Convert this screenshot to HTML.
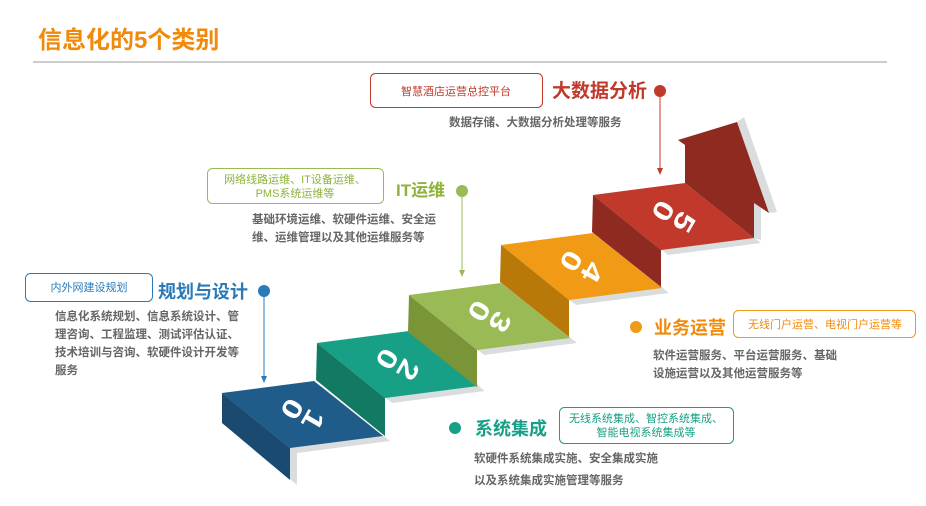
<!DOCTYPE html>
<html><head><meta charset="utf-8"><style>
body{margin:0;background:#fff;}
svg{display:block;font-family:"Liberation Sans","Noto Sans CJK SC",sans-serif;}
.g{fill:#666;font-size:11.5px;font-weight:bold;}
</style></head><body>
<svg width="926" height="506" viewBox="0 0 926 506">
<text x="38" y="48" fill="#f08a0b" font-size="24" font-weight="bold">信息化的5个类别</text>
<line x1="33" y1="62" x2="887" y2="62" stroke="#999" stroke-width="1"/>

<g fill="#d9dddd">
<polygon points="229,398 321,386 390,441 297,453 297,485 229,428"/>
<polygon points="324,348 416,336 485,391 392,403"/>
<polygon points="416,300 508,288 577,343 484,355"/>
<polygon points="508,250 600,238 669,293 576,305"/>
<polygon points="600,200 692,188 761,243 668,255"/>
<polygon points="737,122 744,117 777,212 769,213"/>
<polygon points="754,203 761,206 761,240 754,238"/>
</g>
<polygon points="222,393 314,381 383,436 290,448" fill="#1f5c8a"/>
<polygon points="222,393 290,448 290,480 222,423" fill="#1a4a70"/>
<polygon points="317,343 409,331 478,386 385,398" fill="#17a086"/>
<polygon points="317,343 385,398 385,436 316,380" fill="#127a63"/>
<polygon points="409,295 501,283 570,338 477,350" fill="#9aba55"/>
<polygon points="409,295 477,350 477,387 408,332" fill="#7a9538"/>
<polygon points="501,245 593,233 662,288 569,300" fill="#f09a16"/>
<polygon points="501,245 569,300 569,337 500,282" fill="#b87908"/>
<polygon points="685,183 685,145 678,140 737,122 769,213 754,203 754,238" fill="#8e2a20"/>
<polygon points="593,195 685,183 754,238 661,250" fill="#c0392b"/>
<polygon points="593,195 661,250 661,287 592,232" fill="#8f2a20"/>

<g fill="#fff" font-size="34" font-weight="bold" text-anchor="middle" dominant-baseline="central">
<text transform="translate(292,409) rotate(120) scale(1,0.8)">0</text><text transform="translate(313,420) rotate(120) scale(1,0.8)">1</text>
<text transform="translate(387,359) rotate(120) scale(1,0.8)">0</text><text transform="translate(408,370) rotate(120) scale(1,0.8)">2</text>
<text transform="translate(479,311) rotate(120) scale(1,0.8)">0</text><text transform="translate(500,322) rotate(120) scale(1,0.8)">3</text>
<text transform="translate(571,261) rotate(120) scale(1,0.8)">0</text><text transform="translate(592,272) rotate(120) scale(1,0.8)">4</text>
<text transform="translate(663,211) rotate(120) scale(1,0.8)">0</text><text transform="translate(684,222) rotate(120) scale(1,0.8)">5</text>
</g>

<rect x="370.5" y="73.5" width="172" height="34" rx="5" fill="none" stroke="#c0392b"/>
<text x="456" y="95" fill="#c0392b" font-size="11" text-anchor="middle">智慧酒店运营总控平台</text>
<text x="552" y="97" fill="#c0392b" font-size="19" font-weight="bold">大数据分析</text>
<circle cx="660" cy="91" r="6" fill="#c0392b"/>
<line x1="660" y1="91" x2="660" y2="170" stroke="#c0392b"/>
<polygon points="657,168 663,168 660,175" fill="#c0392b"/>
<text x="449" y="126" class="g">数据存储、大数据分析处理等服务</text>

<rect x="207.5" y="168.5" width="176" height="35" rx="5" fill="none" stroke="#9aba55"/>
<text x="295" y="183" fill="#8db33a" font-size="11" text-anchor="middle">网络线路运维、IT设备运维、</text>
<text x="295" y="197" fill="#8db33a" font-size="11" text-anchor="middle">PMS系统运维等</text>
<text x="396" y="196" fill="#8db33a" font-size="17" font-weight="bold">IT运维</text>
<circle cx="462" cy="191" r="6" fill="#9aba55"/>
<line x1="462" y1="191" x2="462" y2="272" stroke="#9aba55"/>
<polygon points="459,270 465,270 462,277" fill="#9aba55"/>
<text x="252" y="223" class="g">基础环境运维、软硬件运维、安全运</text>
<text x="252" y="241" class="g">维、运维管理以及其他运维服务等</text>

<rect x="25.5" y="273.5" width="127" height="28" rx="5" fill="none" stroke="#2a7ab8"/>
<text x="89" y="291" fill="#2a7ab8" font-size="11" text-anchor="middle">内外网建设规划</text>
<text x="158" y="298" fill="#2a7ab8" font-size="18" font-weight="bold">规划与设计</text>
<circle cx="264" cy="291" r="6" fill="#2a7ab8"/>
<line x1="264" y1="291" x2="264" y2="378" stroke="#2a7ab8"/>
<polygon points="261,376 267,376 264,383" fill="#2a7ab8"/>
<text x="55" y="320" class="g">信息化系统规划、信息系统设计、管</text>
<text x="55" y="338" class="g">理咨询、工程监理、测试评估认证、</text>
<text x="55" y="356" class="g">技术培训与咨询、软硬件设计开发等</text>
<text x="55" y="374" class="g">服务</text>

<circle cx="636" cy="327" r="6" fill="#f09a16"/>
<text x="654" y="334" fill="#f08a0b" font-size="18" font-weight="bold">业务运营</text>
<rect x="733.5" y="310.5" width="182" height="27" rx="5" fill="none" stroke="#f09a16"/>
<text x="825" y="328" fill="#f08a0b" font-size="11" text-anchor="middle">无线门户运营、电视门户运营等</text>
<text x="653" y="359" class="g">软件运营服务、平台运营服务、基础</text>
<text x="653" y="377" class="g">设施运营以及其他运营服务等</text>

<circle cx="455" cy="428" r="6" fill="#17a086"/>
<text x="475" y="435" fill="#17a086" font-size="18" font-weight="bold">系统集成</text>
<rect x="559.5" y="407.5" width="174" height="36" rx="5" fill="none" stroke="#17a086"/>
<text x="646" y="422" fill="#17a086" font-size="11" text-anchor="middle">无线系统集成、智控系统集成、</text>
<text x="646" y="436" fill="#17a086" font-size="11" text-anchor="middle">智能电视系统集成等</text>
<text x="474" y="462" class="g">软硬件系统集成实施、安全集成实施</text>
<text x="474" y="484" class="g">以及系统集成实施管理等服务</text>
</svg>
</body></html>
